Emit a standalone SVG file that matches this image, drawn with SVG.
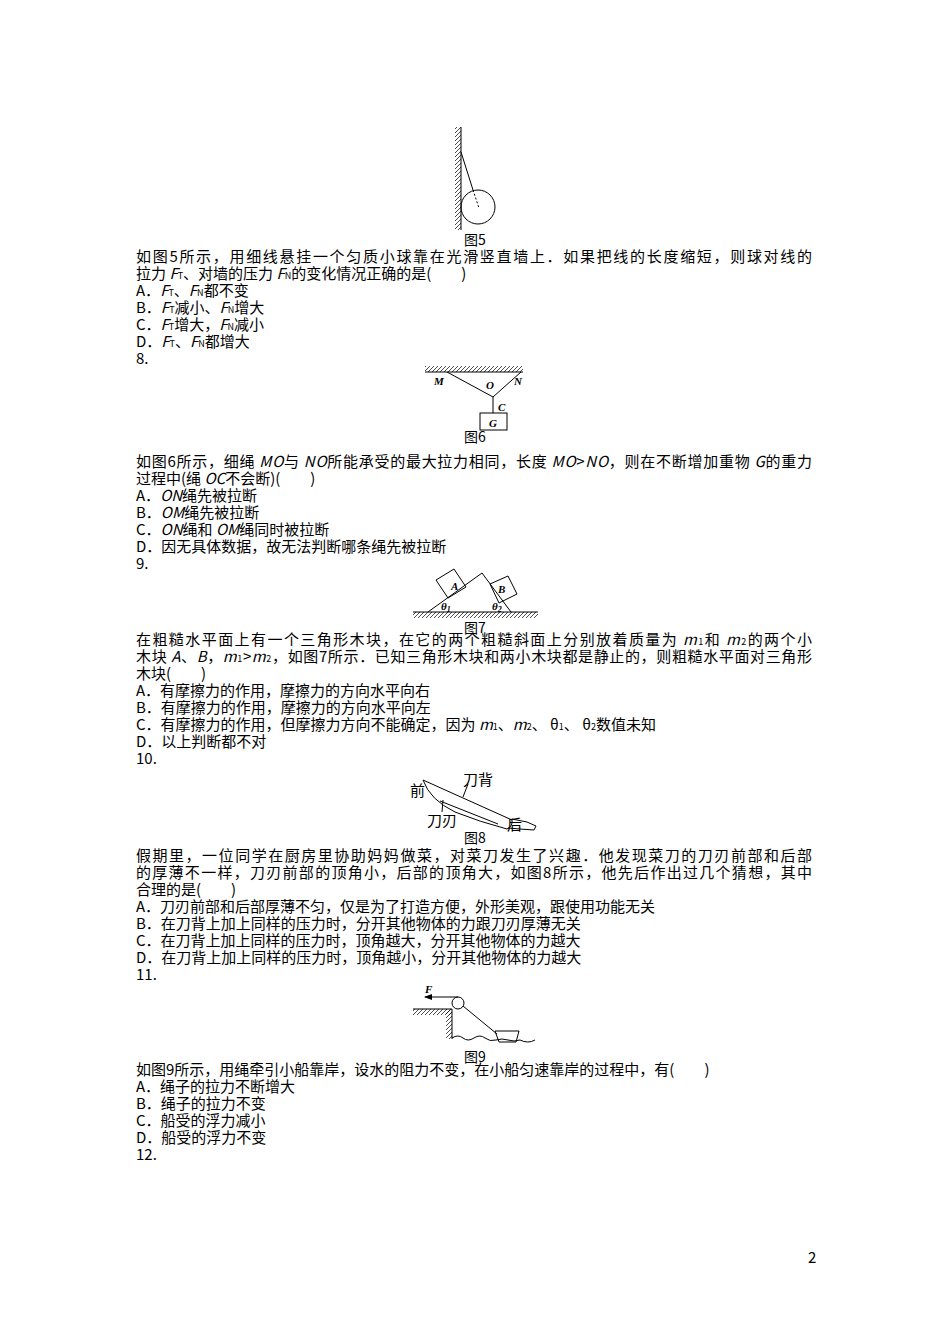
<svg xmlns="http://www.w3.org/2000/svg" width="950" height="1344" viewBox="0 0 950 1344">
<defs>
<pattern id="h" width="4" height="4" patternUnits="userSpaceOnUse"><path d="M0,4 L4,0" stroke="#000" stroke-width="0.7" fill="none"/></pattern>
<marker id="ar" markerWidth="8" markerHeight="6" refX="7" refY="3" orient="auto"><path d="M0,0 L8,3 L0,6 z" fill="#000"/></marker>
</defs>
<style>
text{font-family:"Noto Sans CJK SC","Liberation Serif",serif;font-size:15px;fill:#000}
.l{font-family:"Liberation Serif",serif;font-style:italic;font-weight:bold;font-size:11px}
.c{font-size:14px}
.s{stroke:#000;stroke-width:1;fill:none}
.hp{fill:url(#h);stroke:none}
</style>
<rect x="0" y="0" width="950" height="1344" fill="#fff"/>
<g id="fig5">
<rect class="hp" x="455" y="127" width="6" height="103"/>
<line class="s" x1="461" y1="127" x2="461" y2="230"/>
<line class="s" x1="461" y1="152" x2="473" y2="190"/>
<line class="s" x1="473" y1="190" x2="479" y2="208" stroke-dasharray="2,2"/>
<circle class="s" cx="478" cy="207" r="17"/>
<text x="464" y="245" class="c">图5</text>
</g>
<g id="text1">
<text x="136" y="262" textLength="676">如图5所示，用细线悬挂一个匀质小球靠在光滑竖直墙上．如果把线的长度缩短，则球对线的</text>
<text x="136" y="279">拉力 <tspan font-style="italic">F</tspan><tspan font-size="9">T</tspan>、对墙的压力 <tspan font-style="italic">F</tspan><tspan font-size="9">N</tspan>的变化情况正确的是(　　)</text>
<text x="136" y="296">A．<tspan font-style="italic">F</tspan><tspan font-size="9">T</tspan>、<tspan font-style="italic">F</tspan><tspan font-size="9">N</tspan>都不变</text>
<text x="136" y="313">B．<tspan font-style="italic">F</tspan><tspan font-size="9">T</tspan>减小、<tspan font-style="italic">F</tspan><tspan font-size="9">N</tspan>增大</text>
<text x="136" y="330">C．<tspan font-style="italic">F</tspan><tspan font-size="9">T</tspan>增大，<tspan font-style="italic">F</tspan><tspan font-size="9">N</tspan>减小</text>
<text x="136" y="347">D．<tspan font-style="italic">F</tspan><tspan font-size="9">T</tspan>、<tspan font-style="italic">F</tspan><tspan font-size="9">N</tspan>都增大</text>
<text x="136" y="364">8.</text>
</g>
<g id="fig6">
<rect class="hp" x="425" y="366" width="98" height="6"/>
<line class="s" x1="425" y1="372" x2="523" y2="372"/>
<polyline class="s" points="447,372 493,397 521,372"/>
<line class="s" x1="493" y1="397" x2="493" y2="413"/>
<rect class="s" x="480" y="413" width="27" height="17"/>
<text x="434" y="385" class="l">M</text>
<text x="486" y="389" class="l">O</text>
<text x="514" y="385" class="l">N</text>
<text x="498" y="411" class="l">C</text>
<text x="489" y="427" class="l">G</text>
<text x="464" y="442" class="c">图6</text>
</g>
<g id="text2">
<text x="136" y="467" textLength="676">如图6所示，细绳 <tspan font-style="italic">MO</tspan>与 <tspan font-style="italic">NO</tspan>所能承受的最大拉力相同，长度 <tspan font-style="italic">MO</tspan>&gt;<tspan font-style="italic">NO</tspan>，则在不断增加重物 <tspan font-style="italic">G</tspan>的重力</text>
<text x="136" y="484">过程中(绳 <tspan font-style="italic">OC</tspan>不会断)(　　)</text>
<text x="136" y="501">A．<tspan font-style="italic">ON</tspan>绳先被拉断</text>
<text x="136" y="518">B．<tspan font-style="italic">OM</tspan>绳先被拉断</text>
<text x="136" y="535">C．<tspan font-style="italic">ON</tspan>绳和 <tspan font-style="italic">OM</tspan>绳同时被拉断</text>
<text x="136" y="552">D．因无具体数据，故无法判断哪条绳先被拉断</text>
<text x="136" y="569">9.</text>
</g>
<g id="fig7">
<rect class="hp" x="413" y="612" width="125" height="6"/>
<line class="s" x1="413" y1="612" x2="538" y2="612"/>
<polyline class="s" points="428,612 482,573 511,612"/>
<polygon class="s" points="436,580 454,569 466,587 448,598"/>
<polygon class="s" points="490,584 508,576 517,594 499,603"/>
<text x="441" y="610" class="l">θ<tspan font-size="8" dy="2">1</tspan></text>
<text x="492" y="610" class="l">θ<tspan font-size="8" dy="2">2</tspan></text>
<text x="451" y="590" class="l">A</text>
<text x="498" y="593" class="l">B</text>
<text x="464" y="633" class="c">图7</text>
</g>
<g id="text3">
<text x="136" y="645" textLength="676">在粗糙水平面上有一个三角形木块，在它的两个粗糙斜面上分别放着质量为 <tspan font-style="italic">m</tspan><tspan font-size="9">1</tspan>和 <tspan font-style="italic">m</tspan><tspan font-size="9">2</tspan>的两个小</text>
<text x="136" y="662" textLength="676">木块 <tspan font-style="italic">A</tspan>、<tspan font-style="italic">B</tspan>，<tspan font-style="italic">m</tspan><tspan font-size="9">1</tspan>&gt;<tspan font-style="italic">m</tspan><tspan font-size="9">2</tspan>，如图7所示．已知三角形木块和两小木块都是静止的，则粗糙水平面对三角形</text>
<text x="136" y="679">木块(　　)</text>
<text x="136" y="696">A．有摩擦力的作用，摩擦力的方向水平向右</text>
<text x="136" y="713">B．有摩擦力的作用，摩擦力的方向水平向左</text>
<text x="136" y="730">C．有摩擦力的作用，但摩擦力方向不能确定，因为 <tspan font-style="italic">m</tspan><tspan font-size="9">1</tspan>、<tspan font-style="italic">m</tspan><tspan font-size="9">2</tspan>、 θ<tspan font-size="9">1</tspan>、 θ<tspan font-size="9">2</tspan>数值未知</text>
<text x="136" y="747">D．以上判断都不对</text>
<text x="136" y="764">10.</text>
</g>
<g id="fig8">
<path class="s" d="M423,780 L512,820 Q513,826 507,829 Q480,822 455,812 Q430,800 423,780 Z"/>
<path class="s" d="M440,801 L498,824"/>
<path class="s" d="M512,819 L527,822 L536,826 L534,830 L520,829 L508,828"/>
<line class="s" x1="468" y1="784" x2="463" y2="797"/>
<line class="s" x1="443" y1="800" x2="442" y2="812"/>
<text x="463" y="785" font-size="12">刀背</text>
<text x="410" y="796" font-size="12">前</text>
<text x="427" y="826" font-size="12">刀刃</text>
<text x="507" y="830" font-size="12">后</text>
<text x="464" y="843" class="c">图8</text>
</g>
<g id="text4">
<text x="136" y="861" textLength="676">假期里，一位同学在厨房里协助妈妈做菜，对菜刀发生了兴趣．他发现菜刀的刀刃前部和后部</text>
<text x="136" y="878" textLength="676">的厚薄不一样，刀刃前部的顶角小，后部的顶角大，如图8所示，他先后作出过几个猜想，其中</text>
<text x="136" y="895">合理的是(　　)</text>
<text x="136" y="912">A．刀刃前部和后部厚薄不匀，仅是为了打造方便，外形美观，跟使用功能无关</text>
<text x="136" y="929">B．在刀背上加上同样的压力时，分开其他物体的力跟刀刃厚薄无关</text>
<text x="136" y="946">C．在刀背上加上同样的压力时，顶角越大，分开其他物体的力越大</text>
<text x="136" y="963">D．在刀背上加上同样的压力时，顶角越小，分开其他物体的力越大</text>
<text x="136" y="980">11.</text>
</g>
<g id="fig9">
<rect class="hp" x="413" y="1009" width="39" height="6"/>
<rect class="hp" x="446" y="1009" width="6" height="30"/>
<line class="s" x1="413" y1="1009" x2="452" y2="1009"/>
<line class="s" x1="452" y1="1009" x2="452" y2="1039"/>
<circle class="s" cx="458" cy="1003" r="6"/>
<line class="s" x1="458" y1="997" x2="425" y2="997" marker-end="url(#ar)"/>
<line class="s" x1="463" y1="1006" x2="497" y2="1034"/>
<path class="s" d="M495,1031 L519,1031 L516,1042 L499,1042 Z"/>
<path class="s" d="M452,1038 Q458,1034 463,1038 T474,1038 T485,1038 T496,1040 T508,1040 T520,1040 Q528,1044 535,1040"/>
<text x="425" y="993" class="l">F</text>
<text x="464" y="1062" class="c">图9</text>
</g>
<g id="text5">
<text x="136" y="1075">如图9所示，用绳牵引小船靠岸，设水的阻力不变，在小船匀速靠岸的过程中，有(　　)</text>
<text x="136" y="1092">A．绳子的拉力不断增大</text>
<text x="136" y="1109">B．绳子的拉力不变</text>
<text x="136" y="1126">C．船受的浮力减小</text>
<text x="136" y="1143">D．船受的浮力不变</text>
<text x="136" y="1160">12.</text>
</g>
<text x="808" y="1263" font-size="12">2</text>
<g id="connectors"/>
</svg>
